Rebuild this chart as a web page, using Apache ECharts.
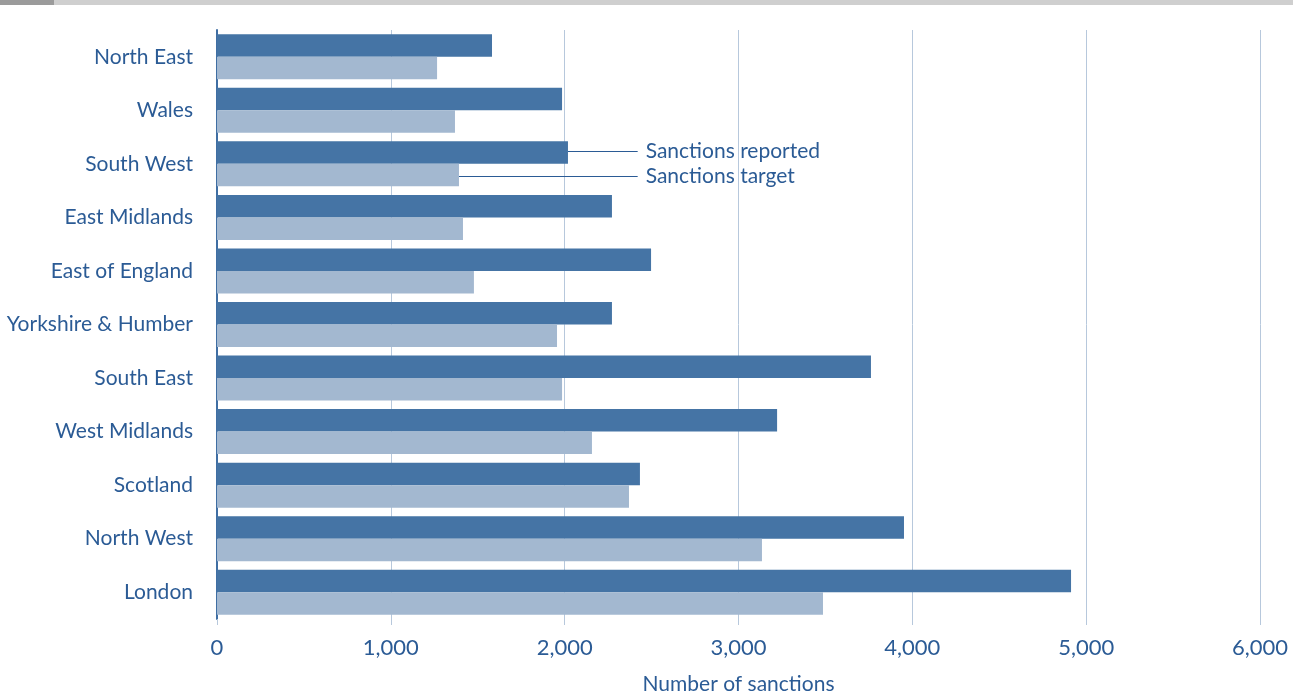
<!DOCTYPE html>
<html>
<head>
<meta charset="utf-8">
<script src="https://cdn.jsdelivr.net/npm/echarts@6/dist/echarts.min.js"></script>
<style>
  html, body { margin: 0; padding: 0; background: #fff; }
  #chart { width: 1293px; height: 696px; }
</style>
</head>
<body>
<div id="chart"></div>
<script>
const regions = ['North East', 'Wales', 'South West', 'East Midlands', 'East of England',
  'Yorkshire & Humber', 'South East', 'West Midlands', 'Scotland', 'North West', 'London']
const reported = [1582, 1985, 2019, 2272, 2497, 2272, 3762, 3222, 2433, 3952, 4913]
const target = [1266, 1369, 1392, 1415, 1478, 1956, 1985, 2157, 2370, 3135, 3486]

const textColor = '#2b5b95'
const font = 'Lato'

const chart = echarts.init(document.getElementById('chart'))

const option = {
  animation: false,
  textStyle: { fontFamily: font },
  grid: { left: 217, right: 33, top: 30, bottom: 77, containLabel: false, outerBoundsMode: 'none' },
  xAxis: {
    type: 'value',
    min: 0,
    max: 6000,
    interval: 1000,
    name: 'Number of sanctions',
    nameLocation: 'middle',
    nameGap: 55,
    nameTextStyle: { color: textColor, fontSize: 21, fontFamily: font },
    axisLine: { show: false },
    axisTick: { show: true, length: 6, lineStyle: { color: '#b7c8dc' } },
    axisLabel: {
      color: textColor, fontSize: 22, margin: 18, fontFamily: font,
      formatter: v => v.toLocaleString('en-GB')
    },
    splitLine: { lineStyle: { color: '#b7c8dc', width: 1 } }
  },
  yAxis: {
    type: 'category',
    data: regions,
    inverse: true,
    axisLine: { lineStyle: { color: '#3f6ea3', width: 2 } },
    axisTick: { show: false },
    axisLabel: { color: textColor, fontSize: 21, margin: 24, fontFamily: font }
  },
  series: [
    {
      name: 'Sanctions reported',
      type: 'bar',
      data: reported,
      barGap: 0,
      barCategoryGap: '16%',
      itemStyle: { color: '#4574a5' }
    },
    {
      name: 'Sanctions target',
      type: 'bar',
      data: target,
      itemStyle: { color: '#a3b8d0' }
    }
  ]
}
chart.setOption(option)

// annotation for the South West pair, placed from the chart's own scales
const idx = regions.indexOf('South West')
const bandY = chart.convertToPixel({ yAxisIndex: 0 }, idx)
const labelX = chart.convertToPixel({ xAxisIndex: 0 }, 2420)
const repX = chart.convertToPixel({ xAxisIndex: 0 }, reported[idx])
const tgtX = chart.convertToPixel({ xAxisIndex: 0 }, target[idx])
const repY = Math.round(bandY - 13) + 0.5
const tgtY = Math.round(bandY + 12) + 0.5

chart.setOption({
  graphic: [
    { type: 'rect', shape: { x: 0, y: 0, width: 54, height: 5 }, style: { fill: '#9b9b9b' } },
    { type: 'rect', shape: { x: 54, y: 0, width: 1239, height: 5 }, style: { fill: '#cfcfcf' } },
    { type: 'line', shape: { x1: repX, y1: repY, x2: labelX, y2: repY },
      style: { stroke: '#2b5b95', lineWidth: 1 } },
    { type: 'line', shape: { x1: tgtX, y1: tgtY, x2: labelX, y2: tgtY },
      style: { stroke: '#2b5b95', lineWidth: 1 } },
    { type: 'text', x: labelX + 8, y: repY,
      style: { text: 'Sanctions reported', fill: textColor, font: '21px ' + font, textVerticalAlign: 'middle' } },
    { type: 'text', x: labelX + 8, y: tgtY,
      style: { text: 'Sanctions target', fill: textColor, font: '21px ' + font, textVerticalAlign: 'middle' } }
  ]
})
</script>
</body>
</html>
